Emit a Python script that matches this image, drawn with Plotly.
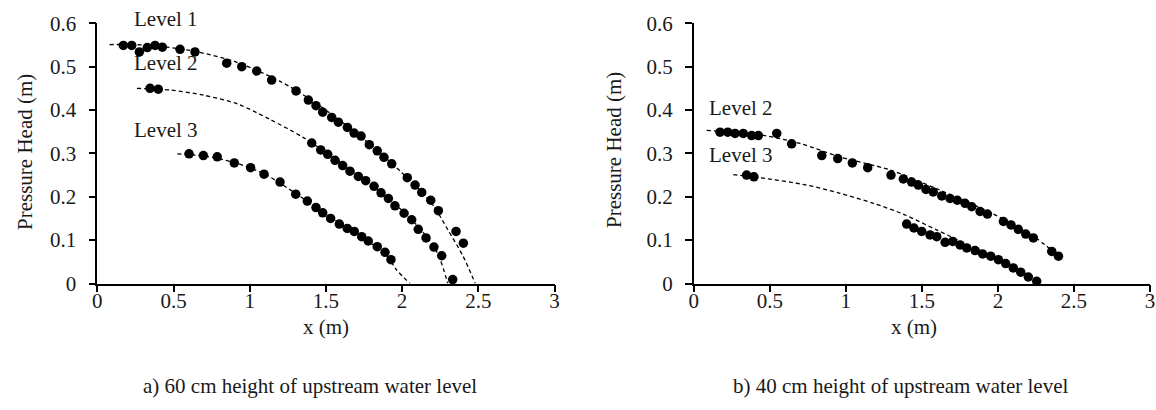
import plotly.graph_objects as go

# ---------------- data ----------------
# Panel a) 60 cm upstream water level
a_l1_x = [0.171, 0.226, 0.276, 0.328, 0.379, 0.427, 0.543, 0.641, 0.849, 0.948, 1.046, 1.144, 1.304,
          1.385, 1.435, 1.479, 1.538, 1.582, 1.641, 1.685, 1.731, 1.785, 1.837, 1.881, 1.932,
          2.034, 2.085, 2.129, 2.188, 2.238, 2.354, 2.402]
a_l1_y = [0.549, 0.549, 0.534, 0.544, 0.549, 0.545, 0.540, 0.534, 0.508, 0.500, 0.490, 0.469, 0.444,
          0.423, 0.410, 0.395, 0.383, 0.372, 0.360, 0.347, 0.340, 0.320, 0.306, 0.291, 0.276,
          0.244, 0.227, 0.210, 0.192, 0.168, 0.120, 0.093]
a_l2_x = [0.346, 0.400, 1.407, 1.466, 1.512, 1.560, 1.610, 1.658, 1.713, 1.761, 1.816, 1.862, 1.910,
          1.953, 2.013, 2.063, 2.106, 2.157, 2.209, 2.260, 2.332]
a_l2_y = [0.450, 0.448, 0.324, 0.308, 0.298, 0.284, 0.272, 0.259, 0.247, 0.237, 0.224, 0.209, 0.196,
          0.179, 0.162, 0.147, 0.125, 0.105, 0.084, 0.064, 0.009]
a_l3_x = [0.602, 0.696, 0.787, 0.899, 1.006, 1.094, 1.199, 1.302, 1.378, 1.435, 1.479, 1.531, 1.588,
          1.640, 1.686, 1.735, 1.778, 1.837, 1.888, 1.927]
a_l3_y = [0.299, 0.295, 0.292, 0.278, 0.267, 0.252, 0.234, 0.206, 0.190, 0.175, 0.163, 0.150, 0.137,
          0.127, 0.120, 0.108, 0.098, 0.085, 0.072, 0.055]

# dashed reference curves, panel a)
a_c1_x = [0.08, 0.30, 0.60, 0.90, 1.20, 1.40, 1.60, 1.80, 2.00, 2.20, 2.30, 2.40, 2.48]
a_c1_y = [0.551, 0.550, 0.538, 0.512, 0.466, 0.424, 0.374, 0.318, 0.255, 0.182, 0.124, 0.063, 0.0]
a_c2_x = [0.26, 0.48, 0.70, 0.92, 1.13, 1.35, 1.50, 1.70, 1.90, 2.05, 2.20, 2.25, 2.30]
a_c2_y = [0.450, 0.446, 0.434, 0.414, 0.379, 0.337, 0.302, 0.252, 0.198, 0.152, 0.090, 0.055, 0.0]
a_c3_x = [0.525, 0.70, 0.90, 1.10, 1.30, 1.50, 1.70, 1.90, 1.96, 2.052]
a_c3_y = [0.299, 0.294, 0.279, 0.252, 0.208, 0.160, 0.115, 0.065, 0.033, 0.0]

# Panel b) 40 cm upstream water level
b_l2_x = [0.173, 0.224, 0.272, 0.326, 0.381, 0.425, 0.546, 0.644, 0.842, 0.947, 1.043, 1.144, 1.297,
          1.378, 1.433, 1.477, 1.527, 1.575, 1.631, 1.685, 1.733, 1.784, 1.828, 1.883, 1.931,
          2.036, 2.086, 2.134, 2.183, 2.233, 2.354, 2.398]
b_l2_y = [0.349, 0.349, 0.346, 0.346, 0.341, 0.341, 0.346, 0.322, 0.295, 0.288, 0.278, 0.267, 0.250,
          0.241, 0.234, 0.227, 0.217, 0.211, 0.202, 0.196, 0.192, 0.185, 0.177, 0.166, 0.160,
          0.143, 0.135, 0.125, 0.114, 0.105, 0.074, 0.063]
b_l3_x = [0.348, 0.396, 1.400, 1.448, 1.499, 1.554, 1.598, 1.653, 1.703, 1.751, 1.795, 1.850, 1.900,
          1.953, 2.003, 2.051, 2.101, 2.150, 2.200, 2.255]
b_l3_y = [0.250, 0.246, 0.137, 0.128, 0.120, 0.112, 0.108, 0.095, 0.097, 0.089, 0.082, 0.076, 0.068,
          0.063, 0.055, 0.046, 0.036, 0.026, 0.015, 0.005]

b_c2_x = [0.085, 0.40, 0.70, 0.96, 1.29, 1.60, 1.90, 2.10, 2.25, 2.36]
b_c2_y = [0.353, 0.345, 0.323, 0.292, 0.262, 0.218, 0.172, 0.137, 0.105, 0.075]
b_c3_x = [0.26, 0.436, 0.743, 0.962, 1.181, 1.378, 1.60, 1.80, 2.00, 2.15, 2.26]
b_c3_y = [0.251, 0.244, 0.227, 0.208, 0.185, 0.160, 0.123, 0.090, 0.057, 0.030, 0.0]

x_ticks = [0, 0.5, 1, 1.5, 2, 2.5, 3]
x_tick_text = ["0", "0.5", "1", "1.5", "2", "2.5", "3"]
y_ticks = [0, 0.1, 0.2, 0.3, 0.4, 0.5, 0.6]
y_tick_text = ["0", "0.1", "0.2", "0.3", "0.4", "0.5", "0.6"]

# ---------------- figure ----------------
FONT = "Liberation Serif"
TXT = "#1a1a1a"

fig = go.Figure()

def dots(x, y, xa, ya):
    fig.add_trace(go.Scatter(x=x, y=y, mode="markers", xaxis=xa, yaxis=ya,
                             marker=dict(color="black", size=9.5, line=dict(width=0)),
                             cliponaxis=False, showlegend=False, hoverinfo="skip"))

def dashed(x, y, xa, ya):
    fig.add_trace(go.Scatter(x=x, y=y, mode="lines", xaxis=xa, yaxis=ya,
                             line=dict(color="black", width=1.3, dash="4px,3px", shape="spline",
                                       smoothing=0.8),
                             cliponaxis=False, showlegend=False, hoverinfo="skip"))

dashed(a_c1_x, a_c1_y, "x", "y")
dashed(a_c2_x, a_c2_y, "x", "y")
dashed(a_c3_x, a_c3_y, "x", "y")
dots(a_l1_x, a_l1_y, "x", "y")
dots(a_l2_x, a_l2_y, "x", "y")
dots(a_l3_x, a_l3_y, "x", "y")

dashed(b_c2_x, b_c2_y, "x2", "y2")
dashed(b_c3_x, b_c3_y, "x2", "y2")
dots(b_l2_x, b_l2_y, "x2", "y2")
dots(b_l3_x, b_l3_y, "x2", "y2")

W, H = 1156, 410
ydom = [1 - 283.5 / H, 1 - 23.3 / H]

def xaxis(dom, anchor):
    return dict(domain=dom, anchor=anchor, range=[0, 3], tickmode="array",
                tickvals=x_ticks, ticktext=x_tick_text, showline=True, linecolor="black",
                linewidth=1.5, ticks="outside", ticklen=7, tickwidth=1.5, tickcolor="black",
                showgrid=False, zeroline=False, tickfont=dict(family=FONT, size=21, color=TXT),
                ticklabelstandoff=-9, automargin=False, fixedrange=True)

def yaxis(anchor):
    return dict(domain=ydom, anchor=anchor, range=[0, 0.6], tickmode="array",
                tickvals=y_ticks, ticktext=y_tick_text, showline=True, linecolor="black",
                linewidth=1.5, ticks="outside", ticklen=7, tickwidth=1.5, tickcolor="black",
                showgrid=False, zeroline=False, tickfont=dict(family=FONT, size=21, color=TXT),
                ticklabelstandoff=8, automargin=False, fixedrange=True)

annotations = []

def px_x(p):
    return p / W

def px_y(p):
    return 1 - p / H

def ann(text, x, y, xref="paper", yref="paper", xanchor="center", yanchor="middle", angle=0):
    annotations.append(dict(text=text, x=x, y=y, xref=xref, yref=yref, xanchor=xanchor,
                            yanchor=yanchor, textangle=angle, showarrow=False,
                            font=dict(family=FONT, size=21, color=TXT)))

# level labels (pixel positions in the picture)
ann("Level 1", px_x(132), px_y(19), xanchor="left")
ann("Level 2", px_x(132), px_y(63), xanchor="left")
ann("Level 3", px_x(132), px_y(130), xanchor="left")
ann("Level 2", px_x(707), px_y(108), xanchor="left")
ann("Level 3", px_x(707), px_y(155), xanchor="left")

# axis titles
ann("Pressure Head (m)", px_x(25), px_y(152), angle=-90)
ann("Pressure Head (m)", px_x(614), px_y(150), angle=-90)
ann("x (m)", px_x(326), px_y(327))
ann("x (m)", px_x(914), px_y(327))

# captions
ann("a) 60 cm height of upstream water level", px_x(310), px_y(386))
ann("b) 40 cm height of upstream water level", px_x(900), px_y(386))

fig.update_layout(
    width=W, height=H, margin=dict(l=0, r=0, t=0, b=0, autoexpand=False),
    paper_bgcolor="white", plot_bgcolor="white",
    font=dict(family=FONT, size=21, color=TXT),
    xaxis=xaxis([97.3 / W, 554.5 / W], "y"),
    yaxis=yaxis("x"),
    xaxis2=xaxis([693.7 / W, 1150.0 / W], "y2"),
    yaxis2=yaxis("x2"),
    annotations=annotations,
    showlegend=False,
)

fig.write_html("out.html")
